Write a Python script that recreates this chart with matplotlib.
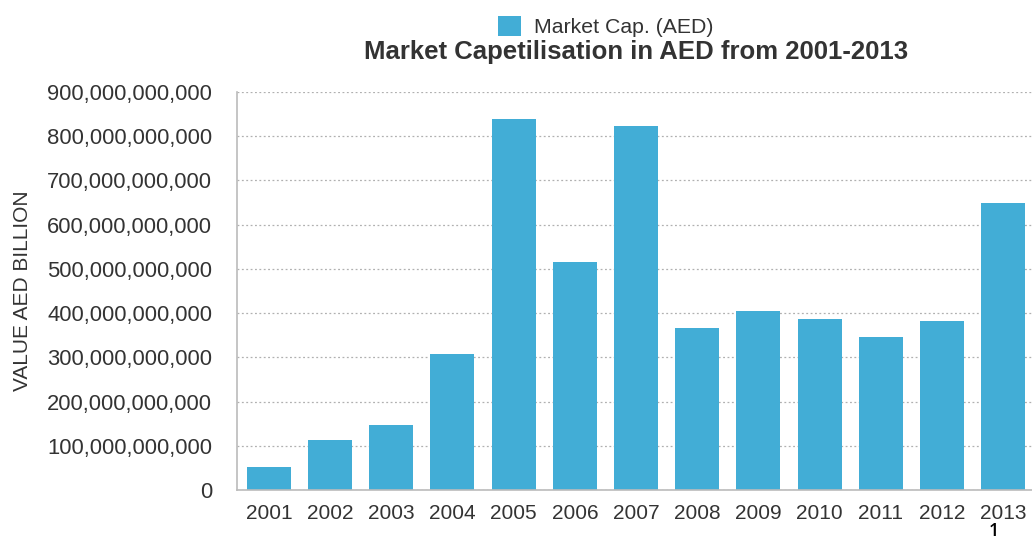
import matplotlib.pyplot as plt
from matplotlib.ticker import FuncFormatter

# DATA
years = ["2001", "2002", "2003", "2004", "2005", "2006", "2007",
         "2008", "2009", "2010", "2011", "2012", "2013"]
market_cap = [52e9, 113e9, 147e9, 308e9, 839e9, 516e9, 824e9,
              366e9, 405e9, 387e9, 346e9, 382e9, 649e9]

bar_color = "#42ADD6"
text_color = "#333333"

plt.rcParams['font.family'] = ['Liberation Sans', 'DejaVu Sans']

fig = plt.figure(figsize=(10.32, 5.43), dpi=100)
ax = fig.add_axes([0.2297, 0.0976, 0.7703, 0.733])

x = range(len(years))
ax.bar(x, market_cap, width=0.72, color=bar_color, label="Market Cap. (AED)", zorder=2)

ax.set_xlim(-0.52, 12.47)
ax.set_ylim(0, 900e9)
ax.set_yticks([i * 100e9 for i in range(10)])
ax.yaxis.set_major_formatter(FuncFormatter(lambda v, p: f"{int(v):,}"))
ax.set_xticks(list(x))
ax.set_xticklabels(years)

ax.tick_params(axis='both', length=0, labelcolor=text_color)
ax.tick_params(axis='y', pad=18, labelsize=15.8)
ax.tick_params(axis='x', pad=10, labelsize=15)

ax.grid(axis='y', linestyle=(0, (1.5, 2)), color='#b0b0b0', linewidth=0.9, zorder=0)
for s in ['top', 'right']:
    ax.spines[s].set_visible(False)
for s in ['left', 'bottom']:
    ax.spines[s].set_color('#bbbbbb')
    ax.spines[s].set_linewidth(1.2)

ax.set_ylabel("VALUE AED BILLION", fontsize=15, color=text_color)
ax.yaxis.set_label_coords(-0.258, 0.5)

fig.text(0.616, 0.905, "Market Capetilisation in AED from 2001-2013",
         ha='center', va='center', fontsize=18.5, fontweight='bold', color=text_color)

leg = fig.legend(loc='center', bbox_to_anchor=(0.587, 0.951), frameon=False,
                 fontsize=15.3, handlelength=1.1, handleheight=1.1, handletextpad=0.6,
                 labelcolor=text_color)

fig.text(0.958, 0.006, "1", fontsize=13, color='black', va='bottom', fontweight='semibold',
         family=['Open Sans', 'DejaVu Sans'])

fig.savefig("out.png", dpi=100)
